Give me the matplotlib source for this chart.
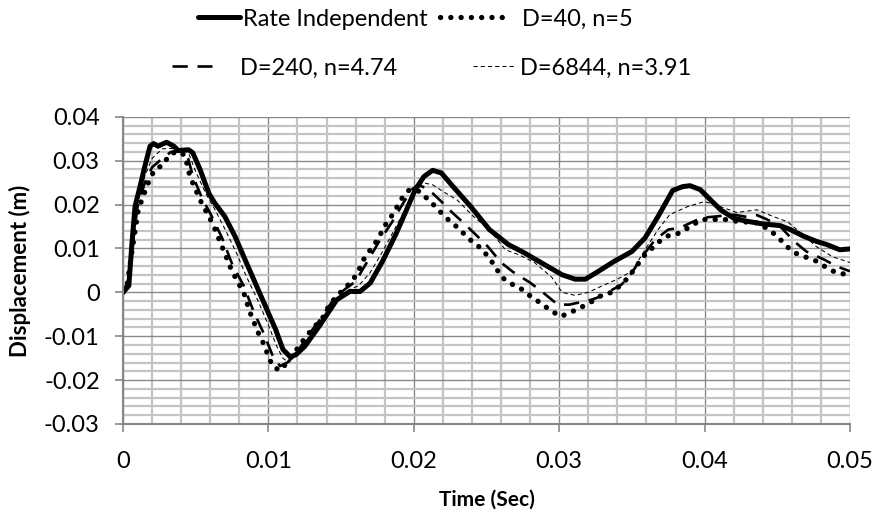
import matplotlib
matplotlib.use("Agg")
import matplotlib.pyplot as plt
from matplotlib.ticker import MultipleLocator, FuncFormatter

plt.rcParams['font.family'] = ['Lato', 'DejaVu Sans']
plt.rcParams['lines.scale_dashes'] = False

# ---- data ----
t_rate = [0, 0.0004, 0.0006, 0.00083, 0.00117, 0.0015, 0.00186, 0.0021, 0.0024, 0.003,
          0.0035, 0.0038, 0.0045, 0.0048, 0.0053, 0.0059, 0.0063, 0.007, 0.0077, 0.0084,
          0.0091, 0.0098, 0.0105, 0.011, 0.0115, 0.0119, 0.0125, 0.0135, 0.0147, 0.0156,
          0.0163, 0.017, 0.0179, 0.0188, 0.0195, 0.0201, 0.0207, 0.0213, 0.0219, 0.0227,
          0.0239, 0.0252, 0.0265, 0.0276, 0.029, 0.0302, 0.0311, 0.0318, 0.0327, 0.0338,
          0.035, 0.0359, 0.0368, 0.0378, 0.0385, 0.039, 0.0397, 0.0404, 0.0411, 0.042,
          0.0429, 0.044, 0.0452, 0.0459, 0.0468, 0.0477, 0.0484, 0.0493, 0.05]
y_rate = [0, 0.0015, 0.0105, 0.0196, 0.0241, 0.0287, 0.0333, 0.0339, 0.0333, 0.0342,
          0.0333, 0.0323, 0.0325, 0.0318, 0.028, 0.0226, 0.0204, 0.0173, 0.0128, 0.0074,
          0.0021, -0.0032, -0.0085, -0.013, -0.0147, -0.0142, -0.0123, -0.0077, -0.0017, 0.0002,
          0.0002, 0.0021, 0.0074, 0.0135, 0.0188, 0.0234, 0.0264, 0.0278, 0.0272, 0.0241,
          0.0196, 0.0143, 0.0109, 0.009, 0.0063, 0.004, 0.003, 0.003, 0.0048, 0.0071,
          0.0093, 0.0124, 0.0173, 0.0232, 0.0241, 0.0243, 0.0234, 0.0211, 0.0188, 0.0169,
          0.0162, 0.0156, 0.0152, 0.0143, 0.0128, 0.0116, 0.0109, 0.0097, 0.0099]

t_d40 = [0, 0.0003, 0.0006, 0.00105, 0.0013, 0.0016, 0.00186, 0.0022, 0.0028, 0.0031,
         0.0035, 0.0039, 0.0043, 0.0045, 0.0048, 0.0051, 0.0054, 0.0059, 0.0062, 0.0068,
         0.0074, 0.0078, 0.0083, 0.0087, 0.0093, 0.0097, 0.01, 0.0103, 0.0108, 0.0113,
         0.0126, 0.0138, 0.0142, 0.0148, 0.0153, 0.0159, 0.0163, 0.0166, 0.0171, 0.0176,
         0.0179, 0.0184, 0.0188, 0.0192, 0.0197, 0.0204, 0.021, 0.0216, 0.0221, 0.0228,
         0.0234, 0.024, 0.0246, 0.0251, 0.0256, 0.026, 0.0266, 0.0273, 0.028, 0.0287,
         0.0294, 0.0301, 0.0307, 0.0314, 0.0321, 0.0328, 0.0336, 0.0343, 0.0348, 0.0353,
         0.0358, 0.0364, 0.0369, 0.0376, 0.0383, 0.039, 0.0398, 0.0406, 0.0414, 0.0422,
         0.0437, 0.0444, 0.045, 0.0456, 0.0462, 0.0469, 0.0477, 0.0484, 0.0491, 0.05]
y_d40 = [0, 0.002, 0.009, 0.0188, 0.0211, 0.0238, 0.026, 0.028, 0.0291, 0.031,
         0.0318, 0.0321, 0.031, 0.0276, 0.0249, 0.0226, 0.0204, 0.0173, 0.0154, 0.0105,
         0.0056, 0.0029, 0.0, -0.0043, -0.0092, -0.0119, -0.0146, -0.0169, -0.0178, -0.016,
         -0.01, -0.0055, -0.0028, -0.0005, 0.001, 0.0033, 0.0056, 0.0078, 0.0101, 0.0124,
         0.0147, 0.017, 0.0192, 0.0215, 0.0234, 0.023, 0.0211, 0.0192, 0.0173, 0.0154,
         0.0135, 0.0116, 0.0101, 0.0082, 0.0059, 0.0036, 0.0021, 0.001, -0.0008, -0.0024,
         -0.0041, -0.0055, -0.0047, -0.0036, -0.0024, -0.0009, 0.0, 0.0018, 0.0036, 0.0059,
         0.0082, 0.0101, 0.0116, 0.0131, 0.0135, 0.015, 0.0166, 0.0166, 0.0166, 0.0162,
         0.0158, 0.0143, 0.0128, 0.0106, 0.009, 0.0081, 0.0071, 0.0056, 0.0044, 0.004]

t_d240 = [0, 0.0004, 0.0007, 0.001, 0.0015, 0.002, 0.0027, 0.0033, 0.004, 0.0044,
          0.0048, 0.0055, 0.006, 0.0068, 0.0075, 0.0083, 0.009, 0.0097, 0.0103, 0.0108,
          0.0113, 0.012, 0.0128, 0.0136, 0.0145, 0.0153, 0.016, 0.0168, 0.0176, 0.0185,
          0.0193, 0.0199, 0.0203, 0.021, 0.0218, 0.0227, 0.0234, 0.0244, 0.0251, 0.026,
          0.0268, 0.028, 0.0288, 0.0299, 0.0307, 0.0322, 0.0328, 0.0343, 0.035, 0.0359,
          0.0366, 0.0375, 0.0383, 0.0398, 0.0405, 0.042, 0.0429, 0.0436, 0.0443, 0.0452,
          0.0462, 0.047, 0.0482, 0.0491, 0.05]
y_d240 = [0, 0.003, 0.012, 0.0195, 0.025, 0.0285, 0.0305, 0.032, 0.0322, 0.0315,
          0.0265, 0.021, 0.018, 0.0125, 0.0065, 0.0015, -0.0045, -0.0095, -0.0145, -0.0168,
          -0.016, -0.0135, -0.0095, -0.006, -0.0015, 0.0008, 0.0025, 0.007, 0.0115, 0.016,
          0.0205, 0.0235, 0.0245, 0.0235, 0.021, 0.018, 0.0159, 0.0127, 0.0104, 0.0068,
          0.0047, 0.0022, 0.0002, -0.0028, -0.0028, -0.0017, -0.001, 0.0018, 0.0045, 0.009,
          0.012, 0.0143, 0.0147, 0.017, 0.0172, 0.0177, 0.0172, 0.0176, 0.0166, 0.015,
          0.0115, 0.0093, 0.0075, 0.0059, 0.0048]

t_d6844 = [0, 0.0004, 0.0007, 0.001, 0.0015, 0.002, 0.0027, 0.0033, 0.004, 0.0045,
           0.005, 0.0057, 0.0063, 0.007, 0.0078, 0.0085, 0.0093, 0.01, 0.0106, 0.011,
           0.0114, 0.012, 0.0128, 0.0137, 0.0146, 0.0155, 0.0162, 0.017, 0.0178, 0.0187,
           0.0195, 0.0201, 0.0206, 0.0213, 0.022, 0.023, 0.0241, 0.0252, 0.0263, 0.0272,
           0.0283, 0.0295, 0.0302, 0.0311, 0.032, 0.0329, 0.034, 0.035, 0.0359, 0.0368,
           0.0376, 0.0388, 0.04, 0.0411, 0.0422, 0.0436, 0.0447, 0.0457, 0.0466, 0.0477,
           0.0488, 0.05]
y_d6844 = [0, 0.003, 0.0125, 0.0205, 0.0265, 0.0305, 0.0327, 0.0328, 0.0325, 0.0318,
           0.0275, 0.0225, 0.019, 0.0145, 0.009, 0.0035, -0.002, -0.0075, -0.0125, -0.015,
           -0.016, -0.014, -0.01, -0.0065, -0.002, 0.0005, 0.0015, 0.0045, 0.009, 0.0145,
           0.0195, 0.0235, 0.025, 0.0245, 0.023, 0.021, 0.0173, 0.0143, 0.0097, 0.0086,
           0.0068, 0.0034, 0.0, -0.0007, 0.0, 0.0014, 0.003, 0.0048, 0.0097, 0.0143,
           0.0177, 0.0195, 0.0207, 0.0195, 0.0182, 0.0188, 0.0173, 0.0161, 0.0136, 0.0104,
           0.0081, 0.0068]

labels = ["Rate Independent", "D=40, n=5", "D=240, n=4.74", "D=6844, n=3.91"]

# ---- figure ----
W, H = 876, 515
fig = plt.figure(figsize=(W / 100, H / 100), dpi=100)
ax = fig.add_axes([123 / W, 1 - 424 / H, (850 - 123) / W, (424 - 116.8) / H])

ax.set_xlim(0, 0.05)
ax.set_ylim(-0.03, 0.04)
ax.xaxis.set_major_locator(MultipleLocator(0.01))
ax.xaxis.set_minor_locator(MultipleLocator(0.002))
ax.yaxis.set_major_locator(MultipleLocator(0.01))
ax.yaxis.set_minor_locator(MultipleLocator(0.002))

ax.grid(which='minor', color='#c4c4c4', linewidth=1.6)
ax.grid(which='major', color='#8a8a8a', linewidth=1.0)
ax.set_axisbelow(True)

for s in ['top', 'right']:
    ax.spines[s].set_visible(False)
for s in ['left', 'bottom']:
    ax.spines[s].set_color('#868686')
    ax.spines[s].set_linewidth(1.5)

ax.tick_params(which='minor', length=0)
ax.tick_params(which='major', direction='out', length=5.8, width=1.2, color='#868686',
               labelsize=17, labelcolor='black')
ax.tick_params(axis='y', pad=11)
ax.tick_params(axis='x', pad=14)

def fmt(v, pos):
    if abs(v) < 1e-12:
        return "0"
    return "%.2f" % v
ax.xaxis.set_major_formatter(FuncFormatter(fmt))
ax.yaxis.set_major_formatter(FuncFormatter(fmt))

l1, = ax.plot(t_rate, y_rate, color='black', lw=3.6, solid_capstyle='round',
              solid_joinstyle='round', label=labels[0])
l2, = ax.plot(t_d40, y_d40, color='black', lw=3.8, linestyle=(0, (0.1, 7.3)),
              dash_capstyle='round', label=labels[1])
l3, = ax.plot(t_d240, y_d240, color='black', lw=1.9, linestyle=(0, (11, 7)),
              dash_capstyle='butt', label=labels[2])
l4, = ax.plot(t_d6844, y_d6844, color='black', lw=0.75, linestyle=(0, (3, 2.2)),
              label=labels[3])

ax.set_xlabel("Time (Sec)", fontsize=15, fontweight='bold')
ax.set_ylabel("Displacement (m)", fontsize=16, fontweight='bold')
ax.xaxis.set_label_coords(0.5, (424 - 500) / (424 - 116.8))
ax.xaxis.label.set_va('center')
ax.yaxis.set_label_coords((20 - 123) / (850 - 123), 0.5)
ax.yaxis.label.set_va('center')

# legend: four single entries placed like the reference
LFS = 17
em = LFS * 100 / 72.0

def entry(handle, label, x0, x1, xtext, yc):
    fig.legend([handle], [label], loc='center left',
               bbox_to_anchor=(x0 / W, 1 - yc / H), frameon=False, fontsize=LFS,
               handlelength=(x1 - x0) / em, handletextpad=(xtext - x1) / em,
               borderpad=0, borderaxespad=0)

entry(l1, labels[0], 198, 240, 243, 19)
entry(l2, labels[1], 440, 502, 522, 19)
entry(l3, labels[2], 172, 212, 240, 68)
entry(l4, labels[3], 473, 515, 520, 68)

fig.savefig("out.png", dpi=100)
